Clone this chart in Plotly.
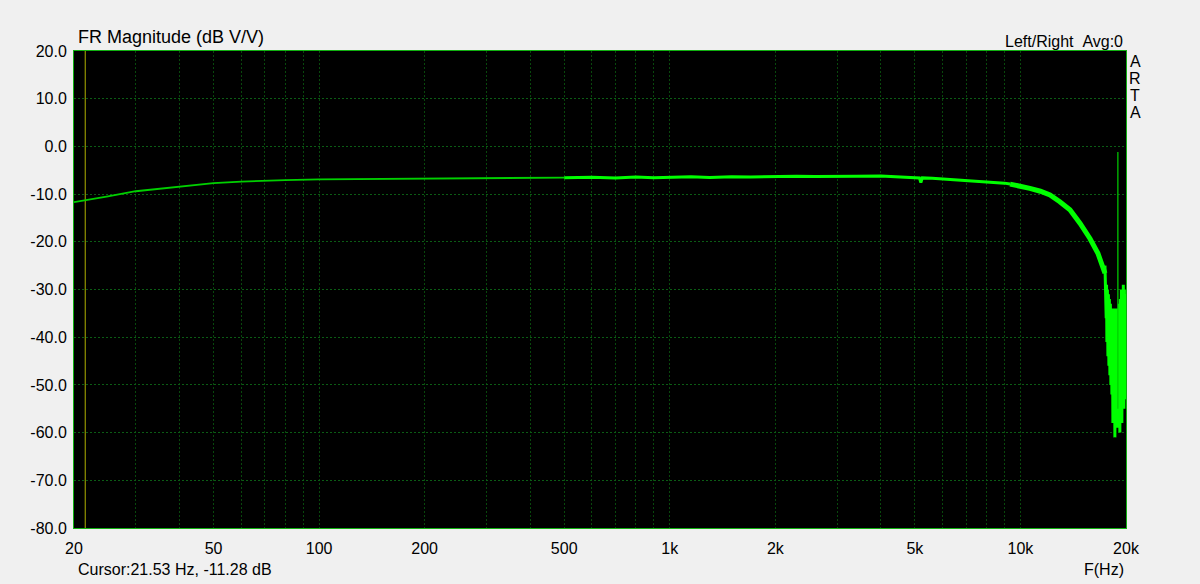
import plotly.graph_objects as go
import math

# ---- data ----
low_freq = [20, 22, 25, 30, 35, 40, 50, 60, 70, 80, 100, 150, 200, 300, 400, 500]
low_db = [-11.7, -11.2, -10.5, -9.4, -8.9, -8.45, -7.7, -7.4, -7.2, -7.05, -6.9, -6.8, -6.7, -6.65, -6.6, -6.55]

mid_freq = [500, 600, 700, 800, 900, 1000, 1150, 1300, 1500, 1700, 2000, 2300, 2600, 3000, 3400, 4000,
            4500, 5000, 5150, 5200, 5250, 5600, 6200, 7000, 7700, 8300, 9000, 9340]
mid_db = [-6.55, -6.45, -6.6, -6.4, -6.55, -6.45, -6.35, -6.5, -6.35, -6.4, -6.3, -6.25, -6.3, -6.2, -6.25, -6.2,
          -6.35, -6.5, -6.6, -7.6, -6.6, -6.7, -6.9, -7.1, -7.25, -7.45, -7.7, -7.9]

roll_freq = [9340, 10000, 10640, 11400, 12140, 12950, 13840, 14780, 15780, 16630, 17100, 17420]
roll_db = [-7.9, -8.3, -8.8, -9.4, -10.2, -11.6, -13.3, -16.1, -19.3, -22.4, -24.6, -26.6]

noise_freq = [17420, 17470, 17528, 17560, 17600, 17643, 17700, 17760, 17820, 17876, 17930,
              17994, 18050, 18112, 18170, 18231, 18290, 18351, 18410, 18471, 18530, 18593,
              18650, 18715, 18780, 18838, 18900, 18962, 19020, 19086, 19150, 19211, 19270,
              19337, 19400, 19464, 19530, 19592, 19650, 19721, 19790, 19851, 19920, 19990]
noise_db = [-25, -29, -27, -36, -29, -41, -30, -44, -31, -46, -32,
            -48, -33, -50, -34, -52, -34, -58, -35, -55, -35, -61,
            -34, -56, -35, -59, -36, -55, -34, -57, -33, -60, -32,
            -54, -30, -58, -31, -53, -29, -55, -30, -52, -31, -53]

spike_freq = [18955, 18962, 18969]
spike_db = [-55, -1.2, -55]

cursor_freq = 21.53
cursor_db = -11.28

x_tick_vals = [20, 50, 100, 200, 500, 1000, 2000, 5000, 10000, 20000]
x_tick_text = ["20", "50", "100", "200", "500", "1k", "2k", "5k", "10k", "20k"]
x_minor_vals = [30, 40, 60, 70, 80, 90, 300, 400, 600, 700, 800, 900,
                3000, 4000, 6000, 7000, 8000, 9000]
y_tick_vals = [20, 10, 0, -10, -20, -30, -40, -50, -60, -70, -80]
y_tick_text = ["20.0", "10.0", "0.0", "-10.0", "-20.0", "-30.0", "-40.0", "-50.0", "-60.0", "-70.0", "-80.0"]

# ---- style ----
FONT = "Liberation Sans, Arial, sans-serif"
HGRID = "#0b5c14"
VGRID = "#08480c"
GREEN = "#00ff00"

fig = go.Figure()
fig.add_trace(go.Scatter(x=[cursor_freq, cursor_freq], y=[-80, 20], mode="lines",
                         line=dict(color="#b0b000", width=1), hoverinfo="skip"))
fig.add_trace(go.Scatter(x=low_freq, y=low_db, mode="lines", line=dict(color="#00d000", width=1.8)))
fig.add_trace(go.Scatter(x=mid_freq, y=mid_db, mode="lines", line=dict(color=GREEN, width=3)))
fig.add_trace(go.Scatter(x=roll_freq, y=roll_db, mode="lines", line=dict(color=GREEN, width=5)))
fig.add_trace(go.Scatter(x=noise_freq, y=noise_db, mode="lines", line=dict(color=GREEN, width=3)))
fig.add_trace(go.Scatter(x=spike_freq, y=spike_db, mode="lines", line=dict(color="#00d000", width=1.2)))

fig.update_layout(
    width=1200, height=584,
    margin=dict(l=74, r=74, t=51, b=56),
    paper_bgcolor="#f0f0f0", plot_bgcolor="#000000",
    showlegend=False,
    font=dict(family=FONT, size=16, color="#000000"),
    xaxis=dict(type="log", range=[math.log10(20), math.log10(20000)],
               tickmode="array", tickvals=x_tick_vals, ticktext=x_tick_text,
               ticks="", ticklabelstandoff=6, zeroline=False,
               showline=True, linecolor="#10b010", linewidth=1, mirror=True,
               showgrid=True, gridcolor=VGRID, gridwidth=1, griddash="2px,2px",
               minor=dict(tickmode="array", tickvals=x_minor_vals, showgrid=True,
                          gridcolor=VGRID, gridwidth=1, griddash="2px,2px", ticks="")),
    yaxis=dict(range=[-80, 20], tickmode="array", tickvals=y_tick_vals, ticktext=y_tick_text,
               ticks="", ticklabelstandoff=3, zeroline=False,
               showline=True, linecolor="#10b010", linewidth=1, mirror=True,
               showgrid=True, gridcolor=HGRID, gridwidth=1, griddash="2px,2px"),
)

ann = [
    dict(text="FR Magnitude (dB V/V)", x=76, y=37, xanchor="left", yanchor="middle", size=18),
    dict(text="Left/Right&nbsp;&nbsp;Avg:0", x=1125, y=41, xanchor="right", yanchor="middle", size=16),
    dict(text="Cursor:%.2f Hz, %.2f dB" % (cursor_freq, cursor_db), x=76, y=569, xanchor="left", yanchor="middle", size=16),
    dict(text="F(Hz)", x=1126, y=569, xanchor="right", yanchor="middle", size=16),
]
for i, ch in enumerate("ARTA"):
    ann.append(dict(text=ch, x=1135, y=61 + i * 17, xanchor="center", yanchor="middle", size=16))

for a in ann:
    fig.add_annotation(text=a["text"], xref="paper", yref="paper",
                       x=(a["x"] - 74) / (1200 - 148), y=1 - (a["y"] - 51) / (584 - 107),
                       xanchor=a["xanchor"], yanchor=a["yanchor"], showarrow=False,
                       font=dict(family=FONT, size=a["size"], color="#000000"))

fig.write_html("out.html", config={"displayModeBar": False},
               post_script="document.body.style.margin='0';document.body.style.overflow='hidden';")
